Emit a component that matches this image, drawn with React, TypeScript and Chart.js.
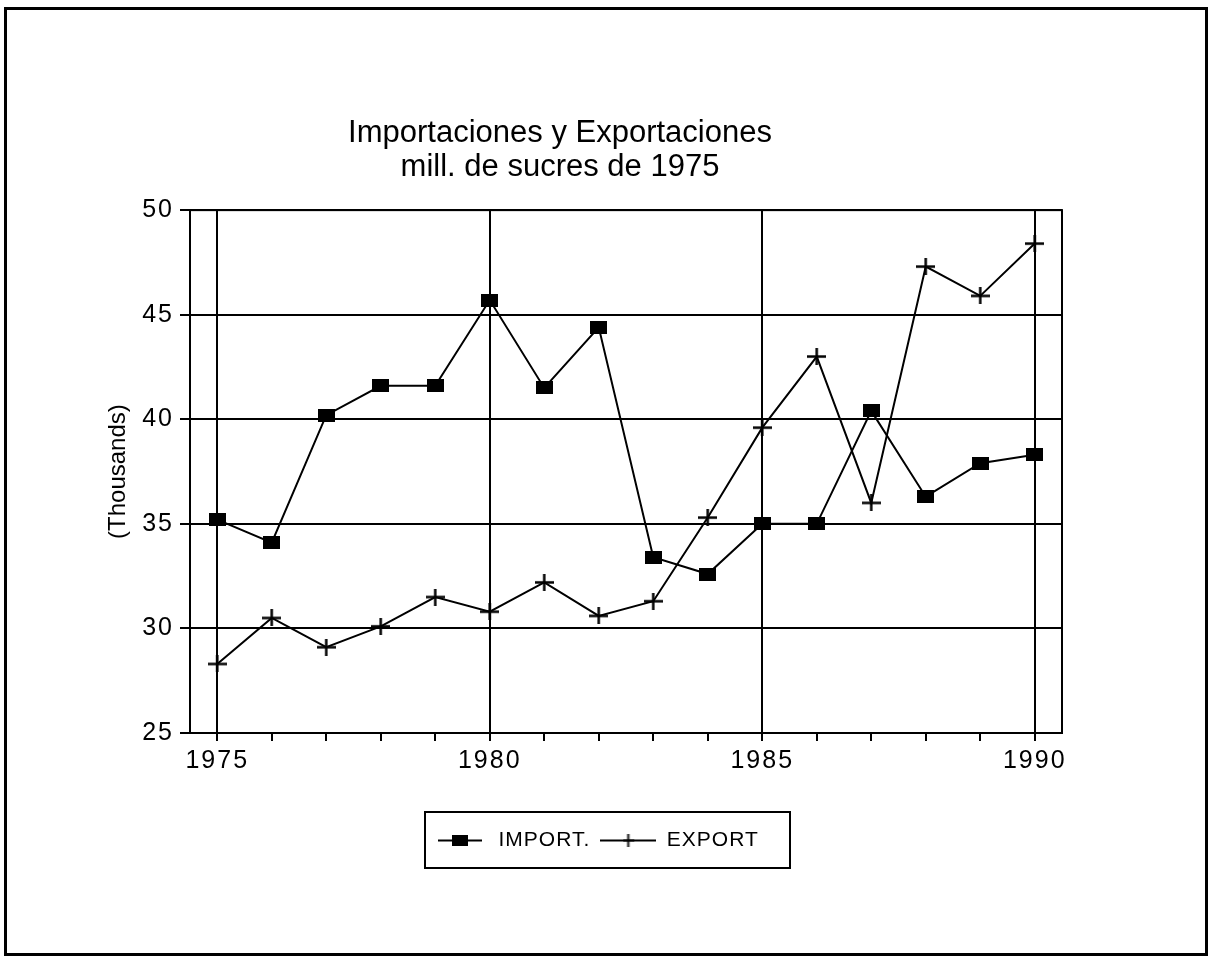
import React, { useEffect, useRef } from 'react';
import { Chart, registerables } from 'chart.js';

Chart.register(...registerables);

// ---- data ----
const years = ['1975', '1976', '1977', '1978', '1979', '1980', '1981', '1982', '1983', '1984', '1985', '1986', '1987', '1988', '1989', '1990'];
const importValues = [35.2, 34.1, 40.2, 41.6, 41.6, 45.7, 41.5, 44.4, 33.4, 32.6, 35.0, 35.0, 40.4, 36.3, 37.9, 38.3];
const exportValues = [28.3, 30.5, 29.1, 30.1, 31.5, 30.8, 32.2, 30.6, 31.3, 35.3, 39.6, 43.0, 36.0, 47.3, 45.9, 48.4];
const yMin = 25;
const yMax = 50;
const yStep = 5;
const labelEvery = 5;
const titleLines = ['Importaciones y Exportaciones', 'mill. de sucres de 1975'];
const yAxisTitle = '(Thousands)';
const seriesNames = ['IMPORT.', 'EXPORT'];

const REGULAR = "'Liberation Sans', Arial, sans-serif";
const INK = '#000';

function makeSquare(w: number, h: number) {
  const c = document.createElement('canvas');
  c.width = w;
  c.height = h;
  const g = c.getContext('2d')!;
  g.fillStyle = INK;
  g.fillRect(0, 0, w, h);
  return c;
}

function makePlus(w: number, h: number, lw: number) {
  const c = document.createElement('canvas');
  c.width = w;
  c.height = h;
  const g = c.getContext('2d')!;
  g.strokeStyle = INK;
  g.lineWidth = lw;
  g.beginPath();
  g.moveTo(0, h / 2);
  g.lineTo(w, h / 2);
  g.moveTo(w / 2, 0);
  g.lineTo(w / 2, h);
  g.stroke();
  return c;
}

function makeSample(lineLen: number, marker: HTMLCanvasElement) {
  const h = Math.max(marker.height, 4);
  const c = document.createElement('canvas');
  c.width = lineLen;
  c.height = h;
  const g = c.getContext('2d')!;
  g.strokeStyle = INK;
  g.lineWidth = 2;
  g.beginPath();
  g.moveTo(0, h / 2);
  g.lineTo(lineLen, h / 2);
  g.stroke();
  g.drawImage(marker, (lineLen - marker.width) / 2, (h - marker.height) / 2);
  return c;
}

function withSpacing(obj: any, method: string, spacing: string) {
  if (!obj) return;
  const flag = '__spaced_' + method;
  if (obj[flag]) return;
  const orig = obj[method];
  obj[method] = function (...args: any[]) {
    const ctx = this.ctx;
    const prev = ctx.letterSpacing;
    ctx.letterSpacing = spacing;
    try {
      return orig.apply(this, args);
    } finally {
      ctx.letterSpacing = prev;
    }
  };
  obj[flag] = true;
}

export default function App() {
  const ref = useRef<HTMLCanvasElement>(null);

  useEffect(() => {
    const canvas = ref.current;
    if (!canvas) return;

    const squareMarker = makeSquare(17, 13);
    const plusMarker = makePlus(19, 17, 2.5);
    const importSample = makeSample(44, makeSquare(16, 11));
    const exportSample = makeSample(56, makePlus(11, 13, 2));

    const decorPlugin = {
      id: 'decor',
      beforeUpdate(chart: any) {
        chart.ctx.letterSpacing = '0px';
      },
      beforeDraw(chart: any) {
        const ctx = chart.ctx;
        ctx.letterSpacing = '0px';
        ctx.save();
        ctx.fillStyle = '#fff';
        ctx.fillRect(0, 0, chart.width, chart.height);
        ctx.restore();
      },
      afterLayout(chart: any) {
        const t = chart.titleBlock;
        if (t) {
          t.left = 0;
          t.right = 1120;
          t.width = 1120;
        }
        const lg = chart.legend;
        if (lg) {
          const h = lg.height;
          lg.left = 422;
          lg.width = 420;
          lg.right = 842;
          lg.top = 820;
          lg.bottom = 820 + h;
          withSpacing(lg, 'draw', '1px');
        }
        withSpacing(chart.scales.x, 'drawLabels', '2px');
        withSpacing(chart.scales.y, 'drawLabels', '2px');
      },
      afterDraw(chart: any) {
        const ctx = chart.ctx;
        const a = chart.chartArea;
        ctx.save();
        ctx.strokeStyle = INK;
        ctx.lineWidth = 2;
        ctx.strokeRect(a.left, a.top, a.right - a.left, a.bottom - a.top);
        const lg = chart.legend;
        if (lg) {
          ctx.strokeRect(lg.left + 3, lg.top - 8, 365, 56);
        }
        ctx.lineWidth = 3;
        ctx.strokeRect(5.5, 8.5, 1201, 946);
        ctx.restore();
      },
    };

    const chart = new Chart(canvas, {
      type: 'line',
      data: {
        labels: years,
        datasets: [
          {
            label: seriesNames[0],
            data: importValues,
            borderColor: INK,
            backgroundColor: INK,
            borderWidth: 2,
            pointStyle: squareMarker as any,
            pointRadius: 8,
            tension: 0,
            fill: false,
          },
          {
            label: seriesNames[1],
            data: exportValues,
            borderColor: INK,
            backgroundColor: INK,
            borderWidth: 2,
            pointStyle: plusMarker as any,
            pointRadius: 8,
            tension: 0,
            fill: false,
          },
        ],
      },
      options: {
        responsive: false,
        animation: false,
        color: INK,
        layout: { padding: { top: 0, right: 153, bottom: 133, left: 0 } },
        plugins: {
          title: {
            display: true,
            text: titleLines,
            color: INK,
            font: { family: REGULAR, size: 31, weight: 'normal', lineHeight: 1.115 },
            padding: { top: 116, bottom: 25 },
          },
          legend: {
            display: true,
            position: 'bottom',
            align: 'start',
            labels: {
              usePointStyle: true,
              pointStyleWidth: 56,
              padding: 10,
              color: INK,
              font: { family: REGULAR, size: 21 },
              generateLabels: () => [
                { text: seriesNames[0], pointStyle: importSample as any, fillStyle: INK, strokeStyle: INK, lineWidth: 0, hidden: false, datasetIndex: 0, fontColor: INK },
                { text: seriesNames[1], pointStyle: exportSample as any, fillStyle: INK, strokeStyle: INK, lineWidth: 0, hidden: false, datasetIndex: 1, fontColor: INK },
              ],
            },
          },
          tooltip: { enabled: false },
        },
        scales: {
          x: {
            type: 'category',
            offset: true,
            grid: {
              offset: false,
              color: (c: any) => (c.index % labelEvery === 0 ? INK : 'rgba(0,0,0,0)'),
              tickColor: INK,
              lineWidth: 2,
              tickWidth: 2,
              tickLength: 8,
            },
            border: { display: true, color: INK, width: 2 },
            ticks: {
              autoSkip: false,
              maxRotation: 0,
              padding: 5,
              color: INK,
              font: { family: REGULAR, size: 25 },
              callback: (_v: any, i: number) => (i % labelEvery === 0 ? years[i] : ''),
            },
            afterFit: (s: any) => {
              s.height = 50;
            },
          },
          y: {
            min: yMin,
            max: yMax,
            ticks: {
              stepSize: yStep,
              padding: 6,
              color: INK,
              font: { family: REGULAR, size: 25 },
            },
            grid: { color: INK, lineWidth: 2, tickLength: 10, tickWidth: 2 },
            border: { display: true, color: INK, width: 2 },
            title: {
              display: true,
              text: yAxisTitle,
              color: INK,
              font: { family: REGULAR, size: 24 },
              padding: { top: 104, bottom: 0 },
            },
            afterFit: (s: any) => {
              s.width = 190;
            },
          },
        },
      } as any,
      plugins: [decorPlugin],
    });

    return () => chart.destroy();
  }, []);

  return (
    <div style={{ position: 'absolute', left: 0, top: 0, width: 1215, height: 957, background: '#fff' }}>
      <canvas ref={ref} width={1215} height={957} style={{ display: 'block', width: 1215, height: 957 }} />
    </div>
  );
}
